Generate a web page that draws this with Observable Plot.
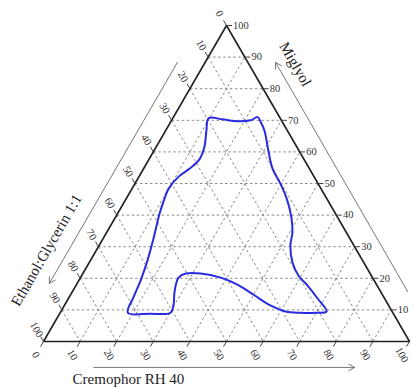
<!DOCTYPE html>
<html><head><meta charset="utf-8">
<script src="https://cdn.jsdelivr.net/npm/d3@7"></script>
<script src="https://cdn.jsdelivr.net/npm/@observablehq/plot@0.6"></script>
<style>body{margin:0;background:#fff}</style>
</head><body><div id="chart"></div>
<script>
// ---- data ----
const tickValues = [0,10,20,30,40,50,60,70,80,90,100];
const rightTickValues = [10,20,30,40,50,60,70,80,90,100];
const gridValues = [10,20,30,40,50,60,70,80,90];
const titleBottom = "Cremophor RH 40";
const titleRight = "Miglyol";
const titleLeft = "Ethanol:Glycerin 1:1";
// boundary of the region: Cremophor % and Miglyol % (Ethanol:Glycerin = rest)
const regionCremophor = [9.8,13.7,18.1,21.6,23.0,24.4,27.1,31.3,35.3,39.9,44.4,48.2,50.8,52.3,55.6,59.3,63.3,68.1,72.6,69.8,65.7,61.4,56.3,50.0,44.0,38.3,32.2,28.1,26.8,27.8,29.8,30.2,24.8,18.5,17.6,16.9,15.6,13.7,11.5,10.6,10.0,10.8,12.7,13.8,13.1,11.2];
const regionMiglyol    = [70.7,70.3,69.7,70.0,71.0,69.7,66.6,60.3,54.6,49.8,44.5,39.1,34.4,30.3,24.9,20.8,17.7,13.6,9.5,9.1,9.1,9.5,11.4,14.8,18.0,20.2,21.5,21.5,20.2,16.1,11.4,9.1,8.8,9.1,13.9,19.2,25.6,32.8,40.4,44.5,48.3,52.1,54.9,57.7,61.8,66.6];

// ---- ternary helpers ----
const S = Math.sqrt(3)/2;
const cart = (c, m) => [c + m/2, m*S];
const region = regionCremophor.map((c,i) => {
  const [x,y] = cart(c, regionMiglyol[i]);
  return {x, y, E: 100 - c - regionMiglyol[i]};
});

const grid = [];
for (const v of gridValues) {
  // constant Miglyol (horizontal)
  let a = cart(0, v), b = cart(100 - v, v);
  grid.push({x1:a[0], y1:a[1], x2:b[0], y2:b[1]});
  // constant Cremophor (parallel to left edge)
  a = cart(v, 0); b = cart(v, 100 - v);
  grid.push({x1:a[0], y1:a[1], x2:b[0], y2:b[1]});
  // constant Ethanol:Glycerin (parallel to right edge)
  a = cart(0, 100 - v); b = cart(100 - v, 0);
  grid.push({x1:a[0], y1:a[1], x2:b[0], y2:b[1]});
}
const tri = [cart(0,0), cart(100,0), cart(0,100), cart(0,0)].map(([x,y]) => ({x,y}));

const TL = 1.6;
const bottomTicks = tickValues.map(t => {
  const [x,y] = cart(t,0);
  return {t, x1:x, y1:y, x2:x - 0.5*TL, y2:y - S*TL, lx:x - 0.5*4.2, ly:y - S*4.2};
});
const leftTicks = tickValues.map(t => {
  const [x,y] = cart(0,100 - t);
  return {t, x1:x, y1:y, x2:x - 0.5*TL, y2:y + S*TL, lx:x - 0.5*3.8, ly:y + S*3.8};
});
const rightTicks = rightTickValues.map(t => {
  const [x,y] = cart(100 - t, t);
  return {t, x1:x, y1:y, x2:x + 1.5, y2:y, lx:x + 1.8, ly:y};
});

// axis title arrows, offset from the edges
const arrows = [
  {x1:13.7, y1:-7.1, x2:85.0, y2:-7.1},
  {x1:cart(100,0)[0]-0.5, y1:13.7, x2:63.4, y2:76.5},
  {x1:36.6, y1:76.5, x2:1.6, y2:15.9}
];
const titles = [
  {text:titleBottom, x:23.2, y:-10.3, r:0},
  {text:titleRight, x:68.8, y:76.0, r:60},
  {text:titleLeft, x:0.8, y:25.0, r:-60}
];

const chart = Plot.plot({
  width: 414, height: 388,
  marginLeft: 43, marginRight: 5, marginTop: 25, marginBottom: 47,
  x: {domain: [0,100], axis: null},
  y: {domain: [0, 100*S], axis: null},
  style: {fontFamily: "'Liberation Serif', 'DejaVu Serif', serif", background: "#fff", overflow: "visible"},
  marks: [
    Plot.link(grid, {x1:"x1", y1:"y1", x2:"x2", y2:"y2", stroke:"#8a8a8a", strokeWidth:1, strokeDasharray:"2.5,2.5"}),
    Plot.line(tri, {x:"x", y:"y", stroke:"#222", strokeWidth:1.6}),
    Plot.link(bottomTicks, {x1:"x1", y1:"y1", x2:"x2", y2:"y2", stroke:"#444", strokeWidth:1}),
    Plot.link(leftTicks, {x1:"x1", y1:"y1", x2:"x2", y2:"y2", stroke:"#444", strokeWidth:1}),
    Plot.link(rightTicks, {x1:"x1", y1:"y1", x2:"x2", y2:"y2", stroke:"#444", strokeWidth:1}),
    Plot.text(bottomTicks, {x:"lx", y:"ly", text:d => String(d.t), rotate:60, fontSize:10.5, fill:"#333"}),
    Plot.text(leftTicks, {x:"lx", y:"ly", text:d => String(d.t), rotate:60, fontSize:10.5, fill:"#333"}),
    Plot.text(rightTicks, {x:"lx", y:"ly", text:d => String(d.t), textAnchor:"start", fontSize:10.5, fill:"#333"}),
    Plot.arrow(arrows, {x1:"x1", y1:"y1", x2:"x2", y2:"y2", stroke:"#777", strokeWidth:1, headLength:10}),
    Plot.text(titles, {x:"x", y:"y", text:"text", rotate:"r", fontSize:15, fill:"#222"}),
    Plot.line(region, {x:"x", y:"y", curve:"catmull-rom-closed", stroke:"#2a2ae0", strokeWidth:2})
  ]
});
document.getElementById("chart").appendChild(chart);
</script>
</body></html>
